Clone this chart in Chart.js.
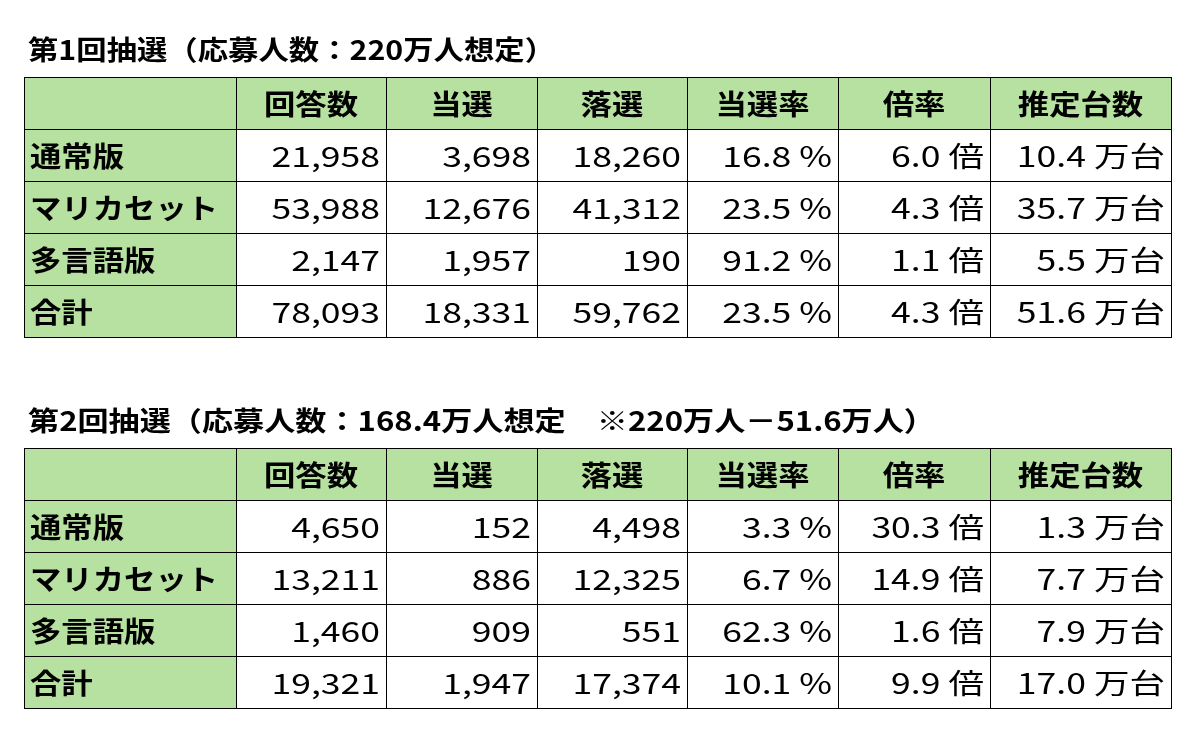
<!DOCTYPE html>
<html><head><meta charset="utf-8">
<script src="https://cdn.jsdelivr.net/npm/chart.js@4"></script>
<style>html,body{margin:0;padding:0;background:#fff}#w{width:1200px;height:749px}</style>
</head><body><div id="w"><canvas id="c"></canvas></div>
<script>
const headers = ["", "回答数", "当選", "落選", "当選率", "倍率", "推定台数"];
const categories = ["通常版", "マリカセット", "多言語版", "合計"];
const title1 = "第1回抽選（応募人数：220万人想定）";
const title2 = "第2回抽選（応募人数：168.4万人想定　※220万人－51.6万人）";
const answers1 = ["21,958", "53,988", "2,147", "78,093"];
const wins1 = ["3,698", "12,676", "1,957", "18,331"];
const losses1 = ["18,260", "41,312", "190", "59,762"];
const rate1 = ["16.8 %", "23.5 %", "91.2 %", "23.5 %"];
const ratio1 = ["6.0 倍", "4.3 倍", "1.1 倍", "4.3 倍"];
const units1 = ["10.4 万台", "35.7 万台", "5.5 万台", "51.6 万台"];
const answers2 = ["4,650", "13,211", "1,460", "19,321"];
const wins2 = ["152", "886", "909", "1,947"];
const losses2 = ["4,498", "12,325", "551", "17,374"];
const rate2 = ["3.3 %", "6.7 %", "62.3 %", "10.1 %"];
const ratio2 = ["30.3 倍", "14.9 倍", "1.6 倍", "9.9 倍"];
const units2 = ["1.3 万台", "7.7 万台", "7.9 万台", "17.0 万台"];

const colEdges = [24, 236, 386, 537, 687, 838, 990, 1171];
const tables = [
  {title: title1, titleY: 50, titleEnd: 555, top: 77, cols: [answers1, wins1, losses1, rate1, ratio1, units1]},
  {title: title2, titleY: 421, titleEnd: 935, top: 448, cols: [answers2, wins2, losses2, rate2, ratio2, units2]}
];
const rowH = 52;
const FONT = '"Noto Sans CJK JP", "Noto Sans", sans-serif';

function drawScaled(ctx, txt, x, y, align, sx) {
  ctx.save();
  ctx.translate(x, y);
  ctx.scale(sx, 1);
  ctx.textAlign = align;
  ctx.fillText(txt, 0, 0);
  ctx.restore();
}

const tablePlugin = {
  id: 'tbl',
  afterDraw(chart) {
    const ctx = chart.ctx, X = chart.scales.x, Y = chart.scales.y;
    const px = v => X.getPixelForValue(v), py = v => Y.getPixelForValue(v);
    ctx.save();
    ctx.textBaseline = 'middle';
    tables.forEach(t => {
      ctx.fillStyle = '#000';
      ctx.font = 'bold 27px ' + FONT;
      const w = ctx.measureText(t.title).width;
      const tx0 = px(28), tx1 = px(t.titleEnd);
      drawScaled(ctx, t.title, tx0, py(t.titleY), 'left', (tx1 - tx0) / w);
      const nRows = categories.length + 1;
      for (let r = 0; r < nRows; r++) {
        for (let c = 0; c < headers.length; c++) {
          const x0 = px(colEdges[c]), x1 = px(colEdges[c + 1]);
          const y0 = py(t.top + r * rowH), y1 = py(t.top + (r + 1) * rowH);
          const green = r === 0 || c === 0;
          ctx.fillStyle = green ? '#b7e1a1' : '#ffffff';
          ctx.fillRect(x0, y0, x1 - x0, y1 - y0);
          ctx.strokeStyle = '#000'; ctx.lineWidth = 1;
          ctx.strokeRect(x0 + 0.5, y0 + 0.5, x1 - x0, y1 - y0);
          let txt, align, xx, bold, sx;
          if (r === 0) { txt = headers[c]; align = 'center'; xx = (x0 + x1) / 2; bold = true; sx = 1.12; }
          else if (c === 0) { txt = categories[r - 1]; align = 'left'; xx = x0 + 6; bold = true; sx = 1.12; }
          else { txt = t.cols[c - 1][r - 1]; align = 'right'; xx = x1 - 6; bold = false; sx = 1.27; }
          ctx.fillStyle = '#000';
          ctx.font = (bold ? 'bold ' : '') + '28px ' + FONT;
          drawScaled(ctx, txt, xx, (y0 + y1) / 2 + 1, align, sx);
        }
      }
    });
    ctx.restore();
  }
};

new Chart(document.getElementById('c'), {
  type: 'scatter',
  data: {datasets: [{data: []}]},
  options: {
    responsive: true, maintainAspectRatio: false, animation: false,
    layout: {padding: 0},
    plugins: {legend: {display: false}, tooltip: {enabled: false}},
    scales: {
      x: {type: 'linear', min: 0, max: 1200, display: false},
      y: {type: 'linear', min: 0, max: 749, reverse: true, display: false}
    }
  },
  plugins: [tablePlugin]
});
</script></body></html>
